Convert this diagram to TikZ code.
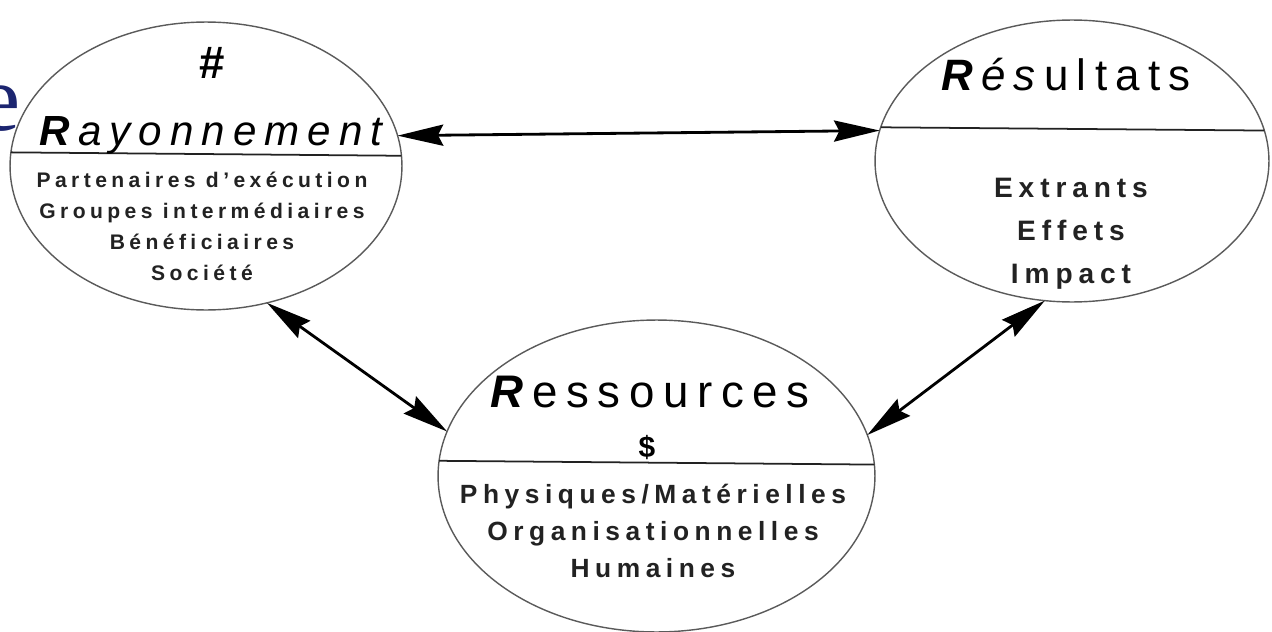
\documentclass[tikz,border=0pt]{standalone}
\usepackage{fontspec}
\setsansfont{Liberation Sans}
\newfontfamily\cutserif{Liberation Serif}
\usetikzlibrary{arrows.meta, shapes.geometric}
\definecolor{cink}{HTML}{222222}
\definecolor{crim}{HTML}{5A5A5A}
\definecolor{cnavy}{HTML}{1C2570}
\tikzset{
  every picture/.style={font=\sffamily},
  blob/.style={ellipse, draw=crim, line width=0.8pt, inner sep=0pt, outer sep=0pt},
  split/.style={draw=cink, line width=1pt},
  link/.style={{Stealth[length=26pt, width=12pt, inset=3pt]}-{Stealth[length=26pt, width=12pt, inset=3pt]}, draw=black, line width=1.6pt},
  headline/.style={anchor=base, inner sep=0pt, font=\sffamily\fontsize{#1}{#1}\selectfont\addfontfeature{LetterSpace=19}},
  sign/.style={anchor=base, inner sep=0pt, font=\sffamily\bfseries\fontsize{#1}{#1}\selectfont},
}

\begin{document}
\begin{tikzpicture}[x=0.02cm, y=-0.02cm,
  entry/.style={anchor=base, inner sep=0pt, text=cink, font=\sffamily\bfseries\fontsize{#1}{#1}\selectfont\addfontfeature{LetterSpace=21}}]
  \useasboundingbox (0,0) rectangle (1272,632);
  \node[anchor=base west, inner sep=0pt, text=cnavy, font=\cutserif\fontsize{54}{54}\selectfont] (cut) at (-22,130) {e};

  \node[blob, minimum width=7.84cm, minimum height=5.76cm] (rayon) at (206,166) {};
  \node[blob, minimum width=7.88cm, minimum height=5.64cm] (result) at (1072,161) {};
  \node[blob, minimum width=8.74cm, minimum height=6.24cm] (ress) at (656.5,476) {};

  \draw[split] (rayon.3.8) -- (rayon.176.2);
  \draw[split] (result.9.2) -- (result.170.8);
  \draw[split] (ress.3.9) -- (ress.176.1);

  \node[sign=26] (hash) at (212,78) {\#};
  \node[headline=24] (rayonT) at (216,145) {\textbf{\textit{R}}\textit{ayonnement}};
  \foreach \c [count=\k] in {Partenaires d'exécution, Groupes intermédiaires, Bénéficiaires, Société} {
    \node[entry=12] (rayon\k) at (202,187+31*\k-31) {\c};
  }

  \node[headline=25] (resultT) at (1066,90) {\textbf{\textit{R}}\textit{és}ultats};
  \foreach \c [count=\k] in {Extrants, Effets, Impact} {
    \node[entry=16] (result\k) at (1071,197+43*\k-43) {\c};
  }

  \node[headline=26] (ressT) at (650,407) {\textbf{\textit{R}}essources};
  \node[sign=17] (dollar) at (647,457) {\$};
  \foreach \c [count=\k] in {Physiques/Matérielles, Organisationnelles, Humaines} {
    \node[entry=15] (ress\k) at (653,503+37*\k-37) {\c};
  }

  \draw[link] (rayon.9.7) -- (result.171);
  \draw[link] (rayon.-66) -- (ress.168);
  \draw[link] (ress.11) -- (result.259.4);
\end{tikzpicture}
\end{document}
